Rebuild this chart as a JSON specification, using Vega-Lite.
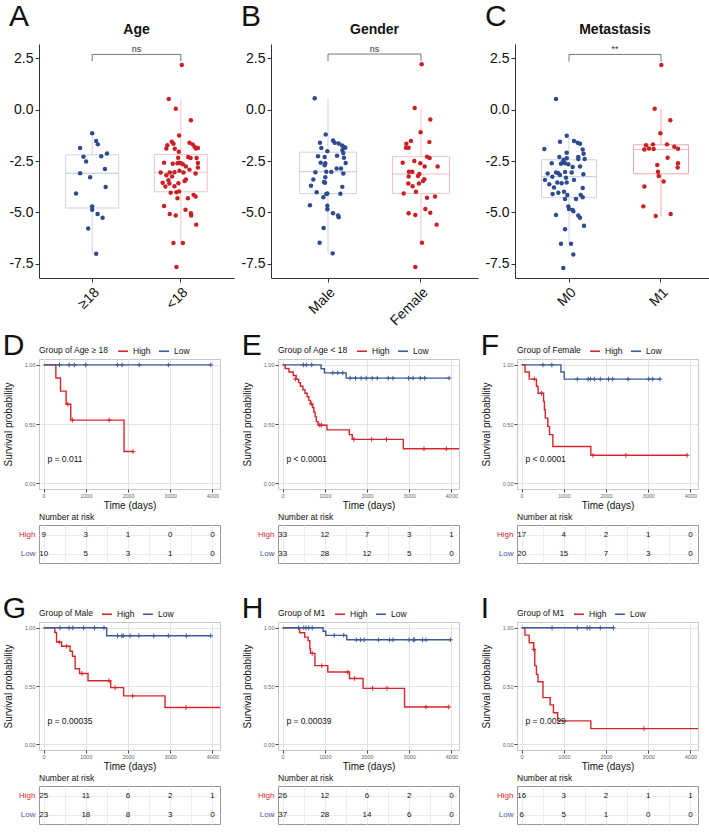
{
"$schema":"https://vega.github.io/schema/vega-lite/v6.json",
"padding":{"left":2,"top":2,"right":0,"bottom":0},
"config":{"font":"Liberation Sans","view":{"stroke":null},
 "title":{"font":"Liberation Sans","color":"#111111"},
 "legend":{"orient":"top","direction":"horizontal","titleOrient":"left","titleFontSize":8.5,"titleFontWeight":"normal","titleColor":"#111111","labelFontSize":8.5,"labelColor":"#111111","symbolStrokeWidth":1.6,"symbolSize":100,"offset":3,"columnPadding":4,"titlePadding":8,"padding":0}},
"datasets":{
"A":[
{"g":"≥18","v":-1.15,"j":0},{"g":"≥18","v":-1.53,"j":0.045},{"g":"≥18","v":-1.69,"j":0.064},{"g":"≥18","v":-1.87,"j":-0.136},{"g":"≥18","v":-2.13,"j":0.167},{"g":"≥18","v":-2.29,"j":-0.098},{"g":"≥18","v":-2.27,"j":0.102},{"g":"≥18","v":-2.52,"j":-0.068},{"g":"≥18","v":-2.89,"j":0.144},{"g":"≥18","v":-3.10,"j":-0.136},{"g":"≥18","v":-3.29,"j":-0.023},{"g":"≥18","v":-3.77,"j":0.152},{"g":"≥18","v":-4.08,"j":-0.182},{"g":"≥18","v":-4.71,"j":0},{"g":"≥18","v":-4.87,"j":0},{"g":"≥18","v":-5.08,"j":0.061},{"g":"≥18","v":-5.26,"j":0.117},{"g":"≥18","v":-5.79,"j":-0.045},{"g":"≥18","v":-7.02,"j":0.045},
{"g":"<18","v":2.18,"j":0.011},{"g":"<18","v":0.52,"j":-0.136},{"g":"<18","v":0.05,"j":-0.057},{"g":"<18","v":-0.52,"j":0.114},{"g":"<18","v":-1.26,"j":-0.019},{"g":"<18","v":-1.56,"j":-0.102},{"g":"<18","v":-1.66,"j":-0.083},{"g":"<18","v":-1.73,"j":-0.152},{"g":"<18","v":-1.61,"j":0.098},{"g":"<18","v":-1.69,"j":0.133},{"g":"<18","v":-1.81,"j":0.155},{"g":"<18","v":-1.89,"j":0.170},{"g":"<18","v":-1.87,"j":0.193},{"g":"<18","v":-1.89,"j":-0.163},{"g":"<18","v":-1.90,"j":-0.068},{"g":"<18","v":-2.05,"j":-0.023},{"g":"<18","v":-2.58,"j":-0.189},{"g":"<18","v":-2.63,"j":-0.091},{"g":"<18","v":-2.61,"j":-0.038},{"g":"<18","v":-2.58,"j":-0.019},{"g":"<18","v":-2.61,"j":0},{"g":"<18","v":-2.66,"j":0.023},{"g":"<18","v":-2.34,"j":-0.030},{"g":"<18","v":-2.31,"j":0.083},{"g":"<18","v":-2.35,"j":0.110},{"g":"<18","v":-2.35,"j":0.178},{"g":"<18","v":-2.60,"j":0.193},{"g":"<18","v":-2.82,"j":0.193},{"g":"<18","v":-2.77,"j":0.057},{"g":"<18","v":-2.92,"j":0.098},{"g":"<18","v":-3.06,"j":-0.125},{"g":"<18","v":-3.06,"j":-0.227},{"g":"<18","v":-3.05,"j":-0.072},{"g":"<18","v":-2.98,"j":-0.015},{"g":"<18","v":-3.06,"j":0.030},{"g":"<18","v":-3.11,"j":0.167},{"g":"<18","v":-3.19,"j":-0.163},{"g":"<18","v":-3.26,"j":-0.098},{"g":"<18","v":-3.40,"j":0.057},{"g":"<18","v":-3.47,"j":0.042},{"g":"<18","v":-3.44,"j":-0.140},{"g":"<18","v":-3.56,"j":-0.205},{"g":"<18","v":-3.60,"j":-0.129},{"g":"<18","v":-3.58,"j":-0.027},{"g":"<18","v":-3.73,"j":-0.072},{"g":"<18","v":-3.74,"j":-0.174},{"g":"<18","v":-3.98,"j":-0.019},{"g":"<18","v":-4.05,"j":-0.114},{"g":"<18","v":-4.02,"j":-0.049},{"g":"<18","v":-4.15,"j":0.144},{"g":"<18","v":-4.23,"j":0.167},{"g":"<18","v":-4.31,"j":-0.038},{"g":"<18","v":-4.31,"j":0.080},{"g":"<18","v":-4.69,"j":-0.189},{"g":"<18","v":-4.87,"j":0.053},{"g":"<18","v":-5.08,"j":-0.125},{"g":"<18","v":-5.15,"j":-0.057},{"g":"<18","v":-5.05,"j":0.114},{"g":"<18","v":-5.15,"j":0.117},{"g":"<18","v":-5.60,"j":0.174},{"g":"<18","v":-6.50,"j":-0.083},{"g":"<18","v":-6.50,"j":0.023},{"g":"<18","v":-7.66,"j":-0.049}
],
"B":[
{"g":"Male","v":0.56,"j":-0.143},{"g":"Male","v":-1.21,"j":-0.025},{"g":"Male","v":-1.50,"j":0.054},{"g":"Male","v":-1.61,"j":-0.086},{"g":"Male","v":-1.61,"j":0.072},{"g":"Male","v":-1.65,"j":0.115},{"g":"Male","v":-1.74,"j":0.151},{"g":"Male","v":-1.82,"j":0.172},{"g":"Male","v":-1.85,"j":0.186},{"g":"Male","v":-1.97,"j":0.154},{"g":"Male","v":-1.87,"j":-0.072},{"g":"Male","v":-2.03,"j":-0.007},{"g":"Male","v":-2.11,"j":0.165},{"g":"Male","v":-2.27,"j":-0.108},{"g":"Male","v":-2.24,"j":0.097},{"g":"Male","v":-2.31,"j":-0.036},{"g":"Male","v":-2.34,"j":0.172},{"g":"Male","v":-2.58,"j":-0.079},{"g":"Male","v":-2.61,"j":-0.029},{"g":"Male","v":-2.60,"j":0.190},{"g":"Male","v":-2.71,"j":-0.036},{"g":"Male","v":-2.87,"j":0.093},{"g":"Male","v":-2.87,"j":0.140},{"g":"Male","v":-3.02,"j":-0.018},{"g":"Male","v":-3.03,"j":0.036},{"g":"Male","v":-3.05,"j":-0.136},{"g":"Male","v":-3.11,"j":0.165},{"g":"Male","v":-3.29,"j":-0.029},{"g":"Male","v":-3.40,"j":-0.158},{"g":"Male","v":-3.52,"j":-0.043},{"g":"Male","v":-3.56,"j":-0.032},{"g":"Male","v":-3.71,"j":-0.183},{"g":"Male","v":-3.76,"j":0.154},{"g":"Male","v":-4.02,"j":-0.122},{"g":"Male","v":-4.11,"j":-0.018},{"g":"Male","v":-4.08,"j":-0.007},{"g":"Male","v":-4.10,"j":0.133},{"g":"Male","v":-4.27,"j":-0.050},{"g":"Male","v":-4.66,"j":-0.194},{"g":"Male","v":-4.68,"j":-0.007},{"g":"Male","v":-4.85,"j":-0.007},{"g":"Male","v":-5.05,"j":0.054},{"g":"Male","v":-5.16,"j":0.108},{"g":"Male","v":-5.24,"j":0.115},{"g":"Male","v":-5.76,"j":-0.047},{"g":"Male","v":-6.48,"j":-0.090},{"g":"Male","v":-7.00,"j":0.050},
{"g":"Female","v":2.21,"j":0.007},{"g":"Female","v":0.08,"j":-0.068},{"g":"Female","v":-0.48,"j":0.100},{"g":"Female","v":-1.10,"j":-0.004},{"g":"Female","v":-1.52,"j":-0.108},{"g":"Female","v":-1.58,"j":0.090},{"g":"Female","v":-1.66,"j":-0.158},{"g":"Female","v":-1.85,"j":-0.161},{"g":"Female","v":-1.85,"j":-0.133},{"g":"Female","v":-2.29,"j":0.065},{"g":"Female","v":-2.35,"j":0.093},{"g":"Female","v":-2.50,"j":-0.072},{"g":"Female","v":-2.58,"j":-0.197},{"g":"Female","v":-2.61,"j":-0.007},{"g":"Female","v":-2.77,"j":0.179},{"g":"Female","v":-2.77,"j":0.039},{"g":"Female","v":-3.02,"j":-0.129},{"g":"Female","v":-3.02,"j":-0.093},{"g":"Female","v":-3.13,"j":-0.018},{"g":"Female","v":-3.26,"j":-0.133},{"g":"Female","v":-3.23,"j":-0.032},{"g":"Female","v":-3.39,"j":0.036},{"g":"Female","v":-3.47,"j":0.022},{"g":"Female","v":-3.60,"j":-0.136},{"g":"Female","v":-3.60,"j":-0.022},{"g":"Female","v":-3.73,"j":-0.090},{"g":"Female","v":-4.00,"j":-0.054},{"g":"Female","v":-4.08,"j":-0.186},{"g":"Female","v":-4.29,"j":0.065},{"g":"Female","v":-4.23,"j":0.151},{"g":"Female","v":-5.05,"j":-0.133},{"g":"Female","v":-5.13,"j":-0.061},{"g":"Female","v":-4.84,"j":0.047},{"g":"Female","v":-5.02,"j":0.100},{"g":"Female","v":-5.60,"j":0.168},{"g":"Female","v":-6.48,"j":0.011},{"g":"Female","v":-7.66,"j":-0.061}
],
"C":[
{"g":"M0","v":0.52,"j":-0.141},{"g":"M0","v":-1.27,"j":-0.025},{"g":"M0","v":-1.56,"j":-0.098},{"g":"M0","v":-1.53,"j":0.054},{"g":"M0","v":-1.61,"j":0.094},{"g":"M0","v":-1.66,"j":0.120},{"g":"M0","v":-1.92,"j":-0.268},{"g":"M0","v":-1.94,"j":0.149},{"g":"M0","v":-2.15,"j":0.159},{"g":"M0","v":-2.10,"j":-0.025},{"g":"M0","v":-2.31,"j":-0.105},{"g":"M0","v":-2.31,"j":0.101},{"g":"M0","v":-2.40,"j":0.101},{"g":"M0","v":-2.37,"j":-0.025},{"g":"M0","v":-2.40,"j":0.170},{"g":"M0","v":-2.44,"j":-0.058},{"g":"M0","v":-2.61,"j":-0.188},{"g":"M0","v":-2.56,"j":-0.069},{"g":"M0","v":-2.63,"j":-0.087},{"g":"M0","v":-2.61,"j":-0.043},{"g":"M0","v":-2.79,"j":0.040},{"g":"M0","v":-2.66,"j":-0.007},{"g":"M0","v":-2.77,"j":0.120},{"g":"M0","v":-3.06,"j":-0.141},{"g":"M0","v":-3.10,"j":-0.116},{"g":"M0","v":-3.03,"j":-0.043},{"g":"M0","v":-3.06,"j":0.029},{"g":"M0","v":-3.15,"j":0.156},{"g":"M0","v":-3.11,"j":-0.232},{"g":"M0","v":-3.27,"j":-0.181},{"g":"M0","v":-3.18,"j":-0.098},{"g":"M0","v":-3.42,"j":-0.261},{"g":"M0","v":-3.31,"j":-0.033},{"g":"M0","v":-3.42,"j":0.054},{"g":"M0","v":-3.55,"j":-0.127},{"g":"M0","v":-3.63,"j":-0.214},{"g":"M0","v":-3.58,"j":-0.080},{"g":"M0","v":-3.55,"j":-0.025},{"g":"M0","v":-3.79,"j":-0.163},{"g":"M0","v":-3.82,"j":0.149},{"g":"M0","v":-4.00,"j":-0.054},{"g":"M0","v":-4.11,"j":-0.178},{"g":"M0","v":-4.05,"j":-0.116},{"g":"M0","v":-4.16,"j":-0.018},{"g":"M0","v":-4.15,"j":0.127},{"g":"M0","v":-4.27,"j":0.149},{"g":"M0","v":-4.35,"j":-0.043},{"g":"M0","v":-4.35,"j":0.076},{"g":"M0","v":-4.71,"j":-0.007},{"g":"M0","v":-4.84,"j":0},{"g":"M0","v":-4.89,"j":0.040},{"g":"M0","v":-4.95,"j":0.047},{"g":"M0","v":-5.13,"j":-0.141},{"g":"M0","v":-5.16,"j":0.101},{"g":"M0","v":-5.27,"j":0.120},{"g":"M0","v":-5.65,"j":0.163},{"g":"M0","v":-5.82,"j":-0.043},{"g":"M0","v":-6.53,"j":-0.087},{"g":"M0","v":-6.53,"j":0.022},{"g":"M0","v":-7.06,"j":0.047},{"g":"M0","v":-7.71,"j":-0.062},
{"g":"M1","v":2.18,"j":0.004},{"g":"M1","v":0.05,"j":-0.069},{"g":"M1","v":-0.52,"j":0.101},{"g":"M1","v":-1.15,"j":-0.007},{"g":"M1","v":-1.73,"j":-0.163},{"g":"M1","v":-1.89,"j":-0.130},{"g":"M1","v":-1.69,"j":-0.087},{"g":"M1","v":-1.69,"j":0.065},{"g":"M1","v":-1.94,"j":-0.181},{"g":"M1","v":-1.92,"j":-0.080},{"g":"M1","v":-1.81,"j":0.145},{"g":"M1","v":-1.90,"j":0.185},{"g":"M1","v":-2.34,"j":0.072},{"g":"M1","v":-2.69,"j":-0.040},{"g":"M1","v":-2.61,"j":0.185},{"g":"M1","v":-2.82,"j":0.181},{"g":"M1","v":-3.02,"j":-0.033},{"g":"M1","v":-3.23,"j":-0.025},{"g":"M1","v":-3.50,"j":0.029},{"g":"M1","v":-3.74,"j":-0.181},{"g":"M1","v":-4.71,"j":-0.192},{"g":"M1","v":-5.08,"j":0.105},{"g":"M1","v":-5.18,"j":-0.058}
],
"line":[
{"p":"D","g":"High","t":0,"s":1},{"p":"D","g":"High","t":290,"s":0.889},{"p":"D","g":"High","t":400,"s":0.778},{"p":"D","g":"High","t":533,"s":0.667},{"p":"D","g":"High","t":643,"s":0.533},{"p":"D","g":"High","t":1906,"s":0.267},{"p":"D","g":"High","t":2118,"s":0.267},
{"p":"D","g":"Low","t":0,"s":1},{"p":"D","g":"Low","t":3961,"s":1},
{"p":"E","g":"High","t":0,"s":1},{"p":"E","g":"High","t":60,"s":0.97},{"p":"E","g":"High","t":150,"s":0.94},{"p":"E","g":"High","t":250,"s":0.91},{"p":"E","g":"High","t":320,"s":0.88},{"p":"E","g":"High","t":380,"s":0.85},{"p":"E","g":"High","t":420,"s":0.82},{"p":"E","g":"High","t":480,"s":0.79},{"p":"E","g":"High","t":530,"s":0.76},{"p":"E","g":"High","t":580,"s":0.73},{"p":"E","g":"High","t":620,"s":0.70},{"p":"E","g":"High","t":660,"s":0.67},{"p":"E","g":"High","t":710,"s":0.64},{"p":"E","g":"High","t":740,"s":0.60},{"p":"E","g":"High","t":770,"s":0.56},{"p":"E","g":"High","t":800,"s":0.52},{"p":"E","g":"High","t":840,"s":0.49},{"p":"E","g":"High","t":1050,"s":0.45},{"p":"E","g":"High","t":1580,"s":0.41},{"p":"E","g":"High","t":1650,"s":0.37},{"p":"E","g":"High","t":2860,"s":0.29},{"p":"E","g":"High","t":4200,"s":0.29},
{"p":"E","g":"Low","t":0,"s":1},{"p":"E","g":"Low","t":911,"s":0.967},{"p":"E","g":"Low","t":990,"s":0.933},{"p":"E","g":"Low","t":1505,"s":0.888},{"p":"E","g":"Low","t":3945,"s":0.888},
{"p":"F","g":"High","t":0,"s":1},{"p":"F","g":"High","t":80,"s":0.94},{"p":"F","g":"High","t":180,"s":0.88},{"p":"F","g":"High","t":350,"s":0.82},{"p":"F","g":"High","t":390,"s":0.76},{"p":"F","g":"High","t":520,"s":0.69},{"p":"F","g":"High","t":540,"s":0.62},{"p":"F","g":"High","t":560,"s":0.55},{"p":"F","g":"High","t":620,"s":0.48},{"p":"F","g":"High","t":660,"s":0.41},{"p":"F","g":"High","t":740,"s":0.31},{"p":"F","g":"High","t":1640,"s":0.235},{"p":"F","g":"High","t":3922,"s":0.235},
{"p":"F","g":"Low","t":0,"s":1},{"p":"F","g":"Low","t":932,"s":0.94},{"p":"F","g":"Low","t":1010,"s":0.88},{"p":"F","g":"Low","t":3278,"s":0.88},
{"p":"G","g":"High","t":0,"s":1},{"p":"G","g":"High","t":265,"s":0.96},{"p":"G","g":"High","t":305,"s":0.878},{"p":"G","g":"High","t":426,"s":0.841},{"p":"G","g":"High","t":627,"s":0.798},{"p":"G","g":"High","t":683,"s":0.756},{"p":"G","g":"High","t":747,"s":0.648},{"p":"G","g":"High","t":851,"s":0.608},{"p":"G","g":"High","t":1052,"s":0.545},{"p":"G","g":"High","t":1590,"s":0.486},{"p":"G","g":"High","t":1896,"s":0.415},{"p":"G","g":"High","t":2876,"s":0.315},{"p":"G","g":"High","t":4200,"s":0.315},
{"p":"G","g":"Low","t":0,"s":1},{"p":"G","g":"Low","t":1494,"s":0.932},{"p":"G","g":"Low","t":3960,"s":0.932},
{"p":"H","g":"High","t":0,"s":1},{"p":"H","g":"High","t":402,"s":0.957},{"p":"H","g":"High","t":523,"s":0.92},{"p":"H","g":"High","t":604,"s":0.89},{"p":"H","g":"High","t":644,"s":0.82},{"p":"H","g":"High","t":660,"s":0.78},{"p":"H","g":"High","t":765,"s":0.675},{"p":"H","g":"High","t":1070,"s":0.62},{"p":"H","g":"High","t":1585,"s":0.565},{"p":"H","g":"High","t":1907,"s":0.48},{"p":"H","g":"High","t":2889,"s":0.32},{"p":"H","g":"High","t":3936,"s":0.32},
{"p":"H","g":"Low","t":0,"s":1},{"p":"H","g":"Low","t":958,"s":0.97},{"p":"H","g":"Low","t":1022,"s":0.935},{"p":"H","g":"Low","t":1521,"s":0.897},{"p":"H","g":"Low","t":3976,"s":0.897},
{"p":"I","g":"High","t":0,"s":1},{"p":"I","g":"High","t":78,"s":0.937},{"p":"I","g":"High","t":179,"s":0.872},{"p":"I","g":"High","t":287,"s":0.815},{"p":"I","g":"High","t":311,"s":0.673},{"p":"I","g":"High","t":350,"s":0.60},{"p":"I","g":"High","t":388,"s":0.537},{"p":"I","g":"High","t":505,"s":0.40},{"p":"I","g":"High","t":676,"s":0.338},{"p":"I","g":"High","t":753,"s":0.27},{"p":"I","g":"High","t":854,"s":0.20},{"p":"I","g":"High","t":1639,"s":0.134},{"p":"I","g":"High","t":4200,"s":0.134},
{"p":"I","g":"Low","t":0,"s":1},{"p":"I","g":"Low","t":2175,"s":1}
],
"cens":[
{"p":"D","g":"High","t":573,"s":0.667},{"p":"D","g":"High","t":682,"s":0.533},{"p":"D","g":"High","t":1553,"s":0.533},{"p":"D","g":"High","t":2118,"s":0.267},
{"p":"D","g":"Low","t":376,"s":1},{"p":"D","g":"Low","t":604,"s":1},{"p":"D","g":"Low","t":729,"s":1},{"p":"D","g":"Low","t":996,"s":1},{"p":"D","g":"Low","t":1749,"s":1},{"p":"D","g":"Low","t":1859,"s":1},{"p":"D","g":"Low","t":2267,"s":1},{"p":"D","g":"Low","t":2957,"s":1},{"p":"D","g":"Low","t":3961,"s":1},
{"p":"E","g":"High","t":300,"s":0.88},{"p":"E","g":"High","t":680,"s":0.67},{"p":"E","g":"High","t":880,"s":0.49},{"p":"E","g":"High","t":920,"s":0.49},{"p":"E","g":"High","t":1690,"s":0.37},{"p":"E","g":"High","t":2110,"s":0.37},{"p":"E","g":"High","t":2460,"s":0.37},{"p":"E","g":"High","t":3350,"s":0.29},{"p":"E","g":"High","t":3880,"s":0.29},
{"p":"E","g":"Low","t":491,"s":1},{"p":"E","g":"Low","t":560,"s":1},{"p":"E","g":"Low","t":689,"s":1},{"p":"E","g":"Low","t":1188,"s":0.933},{"p":"E","g":"Low","t":1307,"s":0.933},{"p":"E","g":"Low","t":1426,"s":0.933},{"p":"E","g":"Low","t":1600,"s":0.888},{"p":"E","g":"Low","t":1727,"s":0.888},{"p":"E","g":"Low","t":1861,"s":0.888},{"p":"E","g":"Low","t":1980,"s":0.888},{"p":"E","g":"Low","t":2123,"s":0.888},{"p":"E","g":"Low","t":2242,"s":0.888},{"p":"E","g":"Low","t":2503,"s":0.888},{"p":"E","g":"Low","t":2614,"s":0.888},{"p":"E","g":"Low","t":2986,"s":0.888},{"p":"E","g":"Low","t":3089,"s":0.888},{"p":"E","g":"Low","t":3263,"s":0.888},{"p":"E","g":"Low","t":3366,"s":0.888},{"p":"E","g":"Low","t":3945,"s":0.888},
{"p":"F","g":"High","t":300,"s":0.88},{"p":"F","g":"High","t":470,"s":0.76},{"p":"F","g":"High","t":1693,"s":0.235},{"p":"F","g":"High","t":2470,"s":0.235},{"p":"F","g":"High","t":3922,"s":0.235},
{"p":"F","g":"Low","t":505,"s":1},{"p":"F","g":"Low","t":715,"s":1},{"p":"F","g":"Low","t":1320,"s":0.88},{"p":"F","g":"Low","t":1577,"s":0.88},{"p":"F","g":"Low","t":1631,"s":0.88},{"p":"F","g":"Low","t":1724,"s":0.88},{"p":"F","g":"Low","t":1864,"s":0.88},{"p":"F","g":"Low","t":2058,"s":0.88},{"p":"F","g":"Low","t":2159,"s":0.88},{"p":"F","g":"Low","t":2524,"s":0.88},{"p":"F","g":"Low","t":3014,"s":0.88},{"p":"F","g":"Low","t":3107,"s":0.88},{"p":"F","g":"Low","t":3278,"s":0.88},
{"p":"G","g":"High","t":369,"s":0.878},{"p":"G","g":"High","t":546,"s":0.841},{"p":"G","g":"High","t":908,"s":0.608},{"p":"G","g":"High","t":1550,"s":0.545},{"p":"G","g":"High","t":1695,"s":0.486},{"p":"G","g":"High","t":2112,"s":0.415},{"p":"G","g":"High","t":3373,"s":0.315},
{"p":"G","g":"Low","t":386,"s":1},{"p":"G","g":"Low","t":602,"s":1},{"p":"G","g":"Low","t":691,"s":1},{"p":"G","g":"Low","t":948,"s":1},{"p":"G","g":"Low","t":1205,"s":1},{"p":"G","g":"Low","t":1430,"s":1},{"p":"G","g":"Low","t":1751,"s":0.932},{"p":"G","g":"Low","t":1855,"s":0.932},{"p":"G","g":"Low","t":1888,"s":0.932},{"p":"G","g":"Low","t":2048,"s":0.932},{"p":"G","g":"Low","t":2257,"s":0.932},{"p":"G","g":"Low","t":2610,"s":0.932},{"p":"G","g":"Low","t":2956,"s":0.932},{"p":"G","g":"Low","t":3382,"s":0.932},{"p":"G","g":"Low","t":3960,"s":0.932},
{"p":"H","g":"High","t":700,"s":0.78},{"p":"H","g":"High","t":926,"s":0.675},{"p":"H","g":"High","t":1545,"s":0.62},{"p":"H","g":"High","t":1706,"s":0.565},{"p":"H","g":"High","t":2133,"s":0.48},{"p":"H","g":"High","t":2471,"s":0.48},{"p":"H","g":"High","t":3396,"s":0.32},{"p":"H","g":"High","t":3936,"s":0.32},
{"p":"H","g":"Low","t":378,"s":1},{"p":"H","g":"Low","t":499,"s":1},{"p":"H","g":"Low","t":555,"s":1},{"p":"H","g":"Low","t":620,"s":1},{"p":"H","g":"Low","t":700,"s":1},{"p":"H","g":"Low","t":1223,"s":0.935},{"p":"H","g":"Low","t":1449,"s":0.935},{"p":"H","g":"Low","t":1746,"s":0.897},{"p":"H","g":"Low","t":1843,"s":0.897},{"p":"H","g":"Low","t":1932,"s":0.897},{"p":"H","g":"Low","t":2269,"s":0.897},{"p":"H","g":"Low","t":2535,"s":0.897},{"p":"H","g":"Low","t":2615,"s":0.897},{"p":"H","g":"Low","t":2994,"s":0.897},{"p":"H","g":"Low","t":3098,"s":0.897},{"p":"H","g":"Low","t":3130,"s":0.897},{"p":"H","g":"Low","t":3315,"s":0.897},{"p":"H","g":"Low","t":3396,"s":0.897},{"p":"H","g":"Low","t":3976,"s":0.897},
{"p":"I","g":"High","t":287,"s":0.815},{"p":"I","g":"High","t":2897,"s":0.134},
{"p":"I","g":"Low","t":722,"s":1},{"p":"I","g":"Low","t":1320,"s":1},{"p":"I","g":"Low","t":1553,"s":1},{"p":"I","g":"Low","t":1616,"s":1},{"p":"I","g":"Low","t":1864,"s":1},{"p":"I","g":"Low","t":2175,"s":1}
],
"pv":[
{"p":"D","t":90,"s":0.2,"lab":"p = 0.011"},{"p":"E","t":90,"s":0.2,"lab":"p < 0.0001"},{"p":"F","t":90,"s":0.2,"lab":"p < 0.0001"},{"p":"G","t":90,"s":0.2,"lab":"p = 0.00035"},{"p":"H","t":90,"s":0.2,"lab":"p = 0.00039"},{"p":"I","t":90,"s":0.2,"lab":"p = 0.0029"}
],
"risk":[
{"p":"D","g":"High","t":0,"n":9},{"p":"D","g":"High","t":1000,"n":3},{"p":"D","g":"High","t":2000,"n":1},{"p":"D","g":"High","t":3000,"n":0},{"p":"D","g":"High","t":4000,"n":0},
{"p":"D","g":"Low","t":0,"n":10},{"p":"D","g":"Low","t":1000,"n":5},{"p":"D","g":"Low","t":2000,"n":3},{"p":"D","g":"Low","t":3000,"n":1},{"p":"D","g":"Low","t":4000,"n":0},
{"p":"E","g":"High","t":0,"n":33},{"p":"E","g":"High","t":1000,"n":12},{"p":"E","g":"High","t":2000,"n":7},{"p":"E","g":"High","t":3000,"n":3},{"p":"E","g":"High","t":4000,"n":1},
{"p":"E","g":"Low","t":0,"n":33},{"p":"E","g":"Low","t":1000,"n":28},{"p":"E","g":"Low","t":2000,"n":12},{"p":"E","g":"Low","t":3000,"n":5},{"p":"E","g":"Low","t":4000,"n":0},
{"p":"F","g":"High","t":0,"n":17},{"p":"F","g":"High","t":1000,"n":4},{"p":"F","g":"High","t":2000,"n":2},{"p":"F","g":"High","t":3000,"n":1},{"p":"F","g":"High","t":4000,"n":0},
{"p":"F","g":"Low","t":0,"n":20},{"p":"F","g":"Low","t":1000,"n":15},{"p":"F","g":"Low","t":2000,"n":7},{"p":"F","g":"Low","t":3000,"n":3},{"p":"F","g":"Low","t":4000,"n":0},
{"p":"G","g":"High","t":0,"n":25},{"p":"G","g":"High","t":1000,"n":11},{"p":"G","g":"High","t":2000,"n":6},{"p":"G","g":"High","t":3000,"n":2},{"p":"G","g":"High","t":4000,"n":1},
{"p":"G","g":"Low","t":0,"n":23},{"p":"G","g":"Low","t":1000,"n":18},{"p":"G","g":"Low","t":2000,"n":8},{"p":"G","g":"Low","t":3000,"n":3},{"p":"G","g":"Low","t":4000,"n":0},
{"p":"H","g":"High","t":0,"n":26},{"p":"H","g":"High","t":1000,"n":12},{"p":"H","g":"High","t":2000,"n":6},{"p":"H","g":"High","t":3000,"n":2},{"p":"H","g":"High","t":4000,"n":0},
{"p":"H","g":"Low","t":0,"n":37},{"p":"H","g":"Low","t":1000,"n":28},{"p":"H","g":"Low","t":2000,"n":14},{"p":"H","g":"Low","t":3000,"n":6},{"p":"H","g":"Low","t":4000,"n":0},
{"p":"I","g":"High","t":0,"n":16},{"p":"I","g":"High","t":1000,"n":3},{"p":"I","g":"High","t":2000,"n":2},{"p":"I","g":"High","t":3000,"n":1},{"p":"I","g":"High","t":4000,"n":1},
{"p":"I","g":"Low","t":0,"n":6},{"p":"I","g":"Low","t":1000,"n":5},{"p":"I","g":"Low","t":2000,"n":1},{"p":"I","g":"Low","t":3000,"n":0},{"p":"I","g":"Low","t":4000,"n":0}
]
},
"resolve":{"scale":{"color":"independent","xOffset":"independent"},"legend":{"color":"independent"}},
"spacing":2,
"align":"none",
"vconcat":[
{"spacing":6,"resolve":{"scale":{"color":"independent","xOffset":"independent"},"legend":{"color":"independent"}},
 "hconcat":[
 {"title":{"text":"A","anchor":"start","fontSize":30,"fontWeight":"normal","offset":-9},
  "vconcat":[{
   "width":195,"height":234,
   "title":{"text":"Age","fontSize":14,"fontWeight":"bold","anchor":"middle","frame":"group","offset":7},
   "data":{"name":"A"},
   "encoding":{
    "x":{"field":"g","type":"nominal","scale":{"domain":["≥18","<18"],"paddingInner":0,"paddingOuter":0.1},"axis":{"title":null,"labelAngle":-45,"labelAlign":"right","labelBaseline":"top","labelFontSize":14,"labelColor":"#111111","labelPadding":3,"tickSize":4,"tickColor":"#333333","domainColor":"#333333","grid":false}},
    "y":{"field":"v","type":"quantitative","scale":{"domain":[-8.2,3.2],"nice":false,"zero":false},"axis":{"title":null,"values":[-7.5,-5,-2.5,0,2.5],"labelExpr":"(datum.value < 0 ? '-' : '') + format(abs(datum.value), '.1f')","labelFontSize":14,"labelColor":"#111111","labelPadding":2,"tickSize":4,"tickColor":"#333333","domainColor":"#333333","grid":false}}
   },
   "layer":[
    {"transform":[{"filter":"datum.g == '≥18'"}],"mark":{"type":"boxplot","extent":1.5,"size":53,"outliers":false,"ticks":false,"box":{"fill":"#ffffff","fillOpacity":0,"stroke":"#cdd3e6","strokeWidth":1},"median":{"color":"#a3aed0"},"rule":{"color":"#cdd3e6"}}},
    {"transform":[{"filter":"datum.g == '<18'"}],"mark":{"type":"boxplot","extent":1.5,"size":53,"outliers":false,"ticks":false,"box":{"fill":"#ffffff","fillOpacity":0,"stroke":"#f3c4c6","strokeWidth":1},"median":{"color":"#eba3a6"},"rule":{"color":"#f3c4c6"}}},
    {"transform":[{"filter":"datum.g == '≥18'"}],"mark":{"type":"circle","size":20,"color":"#2F4B8F","opacity":1},"encoding":{"xOffset":{"field":"j","type":"quantitative","scale":{"domain":[-0.5,0.5],"nice":false,"zero":false}}}},
    {"transform":[{"filter":"datum.g == '<18'"}],"mark":{"type":"circle","size":20,"color":"#CC1F24","opacity":1},"encoding":{"xOffset":{"field":"j","type":"quantitative","scale":{"domain":[-0.5,0.5],"nice":false,"zero":false}}}},
    {"data":{"values":[{"g":"≥18","v":2.37,"o":1},{"g":"≥18","v":2.69,"o":2},{"g":"<18","v":2.69,"o":3},{"g":"<18","v":2.37,"o":4}]},"mark":{"type":"line","color":"#555555","strokeWidth":0.8},"encoding":{"order":{"field":"o","type":"quantitative"}}},
    {"data":{"values":[{"g":"≥18","v":2.95,"j":0.5,"lab":"ns"}]},"mark":{"type":"text","fontSize":9,"color":"#333333"},"encoding":{"xOffset":{"field":"j","type":"quantitative","scale":{"domain":[-0.5,0.5],"nice":false,"zero":false}},"text":{"field":"lab"}}}
   ]
  }]
 },
 {"title":{"text":"B","anchor":"start","fontSize":30,"fontWeight":"normal","offset":-9},
  "vconcat":[{
   "width":207,"height":234,
   "title":{"text":"Gender","fontSize":14,"fontWeight":"bold","anchor":"middle","frame":"group","offset":7},
   "data":{"name":"B"},
   "encoding":{
    "x":{"field":"g","type":"nominal","scale":{"domain":["Male","Female"],"paddingInner":0,"paddingOuter":0.113},"axis":{"title":null,"labelAngle":-45,"labelAlign":"right","labelBaseline":"top","labelFontSize":14,"labelColor":"#111111","labelPadding":3,"tickSize":4,"tickColor":"#333333","domainColor":"#333333","grid":false}},
    "y":{"field":"v","type":"quantitative","scale":{"domain":[-8.2,3.2],"nice":false,"zero":false},"axis":{"title":null,"values":[-7.5,-5,-2.5,0,2.5],"labelExpr":"(datum.value < 0 ? '-' : '') + format(abs(datum.value), '.1f')","labelFontSize":14,"labelColor":"#111111","labelPadding":2,"tickSize":4,"tickColor":"#333333","domainColor":"#333333","grid":false}}
   },
   "layer":[
    {"transform":[{"filter":"datum.g == 'Male'"}],"mark":{"type":"boxplot","extent":1.5,"size":57,"outliers":false,"ticks":false,"box":{"fill":"#ffffff","fillOpacity":0,"stroke":"#cdd3e6","strokeWidth":1},"median":{"color":"#a3aed0"},"rule":{"color":"#cdd3e6"}}},
    {"transform":[{"filter":"datum.g == 'Female'"}],"mark":{"type":"boxplot","extent":1.5,"size":57,"outliers":false,"ticks":false,"box":{"fill":"#ffffff","fillOpacity":0,"stroke":"#f3c4c6","strokeWidth":1},"median":{"color":"#eba3a6"},"rule":{"color":"#f3c4c6"}}},
    {"transform":[{"filter":"datum.g == 'Male'"}],"mark":{"type":"circle","size":20,"color":"#2F4B8F","opacity":1},"encoding":{"xOffset":{"field":"j","type":"quantitative","scale":{"domain":[-0.5,0.5],"nice":false,"zero":false}}}},
    {"transform":[{"filter":"datum.g == 'Female'"}],"mark":{"type":"circle","size":20,"color":"#CC1F24","opacity":1},"encoding":{"xOffset":{"field":"j","type":"quantitative","scale":{"domain":[-0.5,0.5],"nice":false,"zero":false}}}},
    {"data":{"values":[{"g":"Male","v":2.37,"o":1},{"g":"Male","v":2.71,"o":2},{"g":"Female","v":2.71,"o":3},{"g":"Female","v":2.37,"o":4}]},"mark":{"type":"line","color":"#555555","strokeWidth":0.8},"encoding":{"order":{"field":"o","type":"quantitative"}}},
    {"data":{"values":[{"g":"Male","v":2.97,"j":0.5,"lab":"ns"}]},"mark":{"type":"text","fontSize":9,"color":"#333333"},"encoding":{"xOffset":{"field":"j","type":"quantitative","scale":{"domain":[-0.5,0.5],"nice":false,"zero":false}},"text":{"field":"lab"}}}
   ]
  }]
 },
 {"title":{"text":"C","anchor":"start","fontSize":30,"fontWeight":"normal","offset":-9},
  "vconcat":[{
   "width":200,"height":234,
   "title":{"text":"Metastasis","fontSize":14,"fontWeight":"bold","anchor":"middle","frame":"group","offset":7},
   "data":{"name":"C"},
   "encoding":{
    "x":{"field":"g","type":"nominal","scale":{"domain":["M0","M1"],"paddingInner":0,"paddingOuter":0.087},"axis":{"title":null,"labelAngle":-45,"labelAlign":"right","labelBaseline":"top","labelFontSize":14,"labelColor":"#111111","labelPadding":3,"tickSize":4,"tickColor":"#333333","domainColor":"#333333","grid":false}},
    "y":{"field":"v","type":"quantitative","scale":{"domain":[-8.2,3.2],"nice":false,"zero":false},"axis":{"title":null,"values":[-7.5,-5,-2.5,0,2.5],"labelExpr":"(datum.value < 0 ? '-' : '') + format(abs(datum.value), '.1f')","labelFontSize":14,"labelColor":"#111111","labelPadding":2,"tickSize":4,"tickColor":"#333333","domainColor":"#333333","grid":false}}
   },
   "layer":[
    {"transform":[{"filter":"datum.g == 'M0'"}],"mark":{"type":"boxplot","extent":1.5,"size":55,"outliers":false,"ticks":false,"box":{"fill":"#ffffff","fillOpacity":0,"stroke":"#cdd3e6","strokeWidth":1},"median":{"color":"#a3aed0"},"rule":{"color":"#cdd3e6"}}},
    {"transform":[{"filter":"datum.g == 'M1'"}],"mark":{"type":"boxplot","extent":1.5,"size":55,"outliers":false,"ticks":false,"box":{"fill":"#ffffff","fillOpacity":0,"stroke":"#eeaaad","strokeWidth":1},"median":{"color":"#eba3a6"},"rule":{"color":"#eeaaad"}}},
    {"transform":[{"filter":"datum.g == 'M0'"}],"mark":{"type":"circle","size":20,"color":"#2F4B8F","opacity":1},"encoding":{"xOffset":{"field":"j","type":"quantitative","scale":{"domain":[-0.5,0.5],"nice":false,"zero":false}}}},
    {"transform":[{"filter":"datum.g == 'M1'"}],"mark":{"type":"circle","size":20,"color":"#CC1F24","opacity":1},"encoding":{"xOffset":{"field":"j","type":"quantitative","scale":{"domain":[-0.5,0.5],"nice":false,"zero":false}}}},
    {"data":{"values":[{"g":"M0","v":2.34,"o":1},{"g":"M0","v":2.69,"o":2},{"g":"M1","v":2.69,"o":3},{"g":"M1","v":2.34,"o":4}]},"mark":{"type":"line","color":"#555555","strokeWidth":0.8},"encoding":{"order":{"field":"o","type":"quantitative"}}},
    {"data":{"values":[{"g":"M0","v":2.98,"j":0.5,"lab":"**"}]},"mark":{"type":"text","fontSize":9,"color":"#333333"},"encoding":{"xOffset":{"field":"j","type":"quantitative","scale":{"domain":[-0.5,0.5],"nice":false,"zero":false}},"text":{"field":"lab"}}}
   ]
  }]
 }
 ]
},
{"spacing":29,"align":"none","resolve":{"scale":{"color":"independent"},"legend":{"color":"independent"}},
 "vconcat":[
 {"spacing":20,"resolve":{"scale":{"color":"independent"},"legend":{"color":"independent"}},
  "hconcat":[
  {"title":{"text":"D","anchor":"start","fontSize":30,"fontWeight":"normal","offset":-16},"spacing":1,"resolve":{"scale":{"color":"independent"},"legend":{"color":"independent"}},
   "vconcat":[
   {"width":181,"height":130,"view":{"stroke":"#c8c8c8"},
    "layer":[
     {"data":{"name":"line"},"transform":[{"filter":"datum.p == 'D'"}],"mark":{"type":"line","interpolate":"step-after","strokeWidth":1.4,"clip":true},
      "encoding":{"x":{"field":"t","type":"quantitative","scale":{"domain":[-110,4180],"nice":false,"zero":false},"axis":{"title":"Time (days)","values":[0,500,1000,1500,2000,2500,3000,3500,4000],"format":"d","labelExpr":"datum.value % 1000 == 0 ? datum.label : ''","labelFlush":false,"labelFontSize":5.5,"labelColor":"#666666","labelPadding":1,"tickSize":3,"tickColor":"#444444","tickOpacity":{"condition":{"test":"datum.value % 1000 == 0","value":1},"value":0},"domain":false,"grid":true,"gridColor":{"condition":{"test":"datum.value % 1000 == 0","value":"#e3e3e3"},"value":"#f1f1f1"},"titleFontSize":10,"titleFontWeight":"normal","titleColor":"#111111","titlePadding":2}},
       "y":{"field":"s","type":"quantitative","scale":{"domain":[-0.05,1.05],"nice":false,"zero":false},"axis":{"title":"Survival probability","values":[0,0.125,0.25,0.375,0.5,0.625,0.75,0.875,1],"format":".2f","labelExpr":"(datum.value * 4) % 1 == 0 ? datum.label : ''","labelFlush":false,"labelFontSize":5.5,"labelColor":"#666666","labelPadding":1,"tickSize":3,"tickColor":"#444444","tickOpacity":{"condition":{"test":"(datum.value * 4) % 1 == 0","value":1},"value":0},"domain":false,"grid":true,"gridColor":{"condition":{"test":"(datum.value * 4) % 1 == 0","value":"#e3e3e3"},"value":"#f1f1f1"},"titleFontSize":10,"titleFontWeight":"normal","titleColor":"#111111","titlePadding":11}},
       "color":{"field":"g","type":"nominal","scale":{"domain":["High","Low"],"range":["#D7262B","#3C5A9A"]},"legend":{"title":"Group of Age ≥ 18","symbolType":"stroke"}}}},
     {"data":{"name":"cens"},"transform":[{"filter":"datum.p == 'D'"}],"mark":{"type":"point","shape":"M-1,0L1,0M0,-1L0,1","size":22,"strokeWidth":1,"filled":false,"opacity":1},
      "encoding":{"x":{"field":"t","type":"quantitative"},"y":{"field":"s","type":"quantitative"},"color":{"field":"g","type":"nominal"}}},
     {"data":{"name":"pv"},"transform":[{"filter":"datum.p == 'D'"}],"mark":{"type":"text","align":"left","baseline":"middle","fontSize":8.5,"color":"#111111"},
      "encoding":{"x":{"field":"t","type":"quantitative"},"y":{"field":"s","type":"quantitative"},"text":{"field":"lab"}}}
    ]},
   {"width":181,"height":38,"view":{"stroke":"#999999"},
    "title":{"text":"Number at risk","anchor":"start","frame":"group","fontSize":8.5,"fontWeight":"normal","offset":4},
    "data":{"name":"risk"},"transform":[{"filter":"datum.p == 'D'"}],
    "mark":{"type":"text","fontSize":8,"color":"#111111"},
    "encoding":{"x":{"field":"t","type":"quantitative","scale":{"domain":[-110,4180],"nice":false,"zero":false},"axis":{"values":[0,500,1000,1500,2000,2500,3000,3500,4000],"labels":false,"ticks":false,"domain":false,"grid":true,"gridColor":"#ececec","title":null}},
     "y":{"field":"g","type":"nominal","scale":{"domain":["High","Low"],"paddingInner":0,"paddingOuter":0.05},"axis":{"title":null,"ticks":false,"domain":false,"grid":true,"bandPosition":0.5,"gridColor":"#ececec","labelFontSize":8,"labelPadding":4,"labelColor":{"condition":{"test":"datum.value == 'High'","value":"#D7262B"},"value":"#3C5A9A"}}},
     "text":{"field":"n","type":"quantitative"}}}
   ]},
  {"title":{"text":"E","anchor":"start","fontSize":30,"fontWeight":"normal","offset":-16},"spacing":1,"resolve":{"scale":{"color":"independent"},"legend":{"color":"independent"}},
   "vconcat":[
   {"width":181,"height":130,"view":{"stroke":"#c8c8c8"},
    "layer":[
     {"data":{"name":"line"},"transform":[{"filter":"datum.p == 'E'"}],"mark":{"type":"line","interpolate":"step-after","strokeWidth":1.4,"clip":true},
      "encoding":{"x":{"field":"t","type":"quantitative","scale":{"domain":[-110,4180],"nice":false,"zero":false},"axis":{"title":"Time (days)","values":[0,500,1000,1500,2000,2500,3000,3500,4000],"format":"d","labelExpr":"datum.value % 1000 == 0 ? datum.label : ''","labelFlush":false,"labelFontSize":5.5,"labelColor":"#666666","labelPadding":1,"tickSize":3,"tickColor":"#444444","tickOpacity":{"condition":{"test":"datum.value % 1000 == 0","value":1},"value":0},"domain":false,"grid":true,"gridColor":{"condition":{"test":"datum.value % 1000 == 0","value":"#e3e3e3"},"value":"#f1f1f1"},"titleFontSize":10,"titleFontWeight":"normal","titleColor":"#111111","titlePadding":2}},
       "y":{"field":"s","type":"quantitative","scale":{"domain":[-0.05,1.05],"nice":false,"zero":false},"axis":{"title":"Survival probability","values":[0,0.125,0.25,0.375,0.5,0.625,0.75,0.875,1],"format":".2f","labelExpr":"(datum.value * 4) % 1 == 0 ? datum.label : ''","labelFlush":false,"labelFontSize":5.5,"labelColor":"#666666","labelPadding":1,"tickSize":3,"tickColor":"#444444","tickOpacity":{"condition":{"test":"(datum.value * 4) % 1 == 0","value":1},"value":0},"domain":false,"grid":true,"gridColor":{"condition":{"test":"(datum.value * 4) % 1 == 0","value":"#e3e3e3"},"value":"#f1f1f1"},"titleFontSize":10,"titleFontWeight":"normal","titleColor":"#111111","titlePadding":11}},
       "color":{"field":"g","type":"nominal","scale":{"domain":["High","Low"],"range":["#D7262B","#3C5A9A"]},"legend":{"title":"Group of Age < 18","symbolType":"stroke"}}}},
     {"data":{"name":"cens"},"transform":[{"filter":"datum.p == 'E'"}],"mark":{"type":"point","shape":"M-1,0L1,0M0,-1L0,1","size":22,"strokeWidth":1,"filled":false,"opacity":1},
      "encoding":{"x":{"field":"t","type":"quantitative"},"y":{"field":"s","type":"quantitative"},"color":{"field":"g","type":"nominal"}}},
     {"data":{"name":"pv"},"transform":[{"filter":"datum.p == 'E'"}],"mark":{"type":"text","align":"left","baseline":"middle","fontSize":8.5,"color":"#111111"},
      "encoding":{"x":{"field":"t","type":"quantitative"},"y":{"field":"s","type":"quantitative"},"text":{"field":"lab"}}}
    ]},
   {"width":181,"height":38,"view":{"stroke":"#999999"},
    "title":{"text":"Number at risk","anchor":"start","frame":"group","fontSize":8.5,"fontWeight":"normal","offset":4},
    "data":{"name":"risk"},"transform":[{"filter":"datum.p == 'E'"}],
    "mark":{"type":"text","fontSize":8,"color":"#111111"},
    "encoding":{"x":{"field":"t","type":"quantitative","scale":{"domain":[-110,4180],"nice":false,"zero":false},"axis":{"values":[0,500,1000,1500,2000,2500,3000,3500,4000],"labels":false,"ticks":false,"domain":false,"grid":true,"gridColor":"#ececec","title":null}},
     "y":{"field":"g","type":"nominal","scale":{"domain":["High","Low"],"paddingInner":0,"paddingOuter":0.05},"axis":{"title":null,"ticks":false,"domain":false,"grid":true,"bandPosition":0.5,"gridColor":"#ececec","labelFontSize":8,"labelPadding":4,"labelColor":{"condition":{"test":"datum.value == 'High'","value":"#D7262B"},"value":"#3C5A9A"}}},
     "text":{"field":"n","type":"quantitative"}}}
   ]},
  {"title":{"text":"F","anchor":"start","fontSize":30,"fontWeight":"normal","offset":-16},"spacing":1,"resolve":{"scale":{"color":"independent"},"legend":{"color":"independent"}},
   "vconcat":[
   {"width":181,"height":130,"view":{"stroke":"#c8c8c8"},
    "layer":[
     {"data":{"name":"line"},"transform":[{"filter":"datum.p == 'F'"}],"mark":{"type":"line","interpolate":"step-after","strokeWidth":1.4,"clip":true},
      "encoding":{"x":{"field":"t","type":"quantitative","scale":{"domain":[-110,4180],"nice":false,"zero":false},"axis":{"title":"Time (days)","values":[0,500,1000,1500,2000,2500,3000,3500,4000],"format":"d","labelExpr":"datum.value % 1000 == 0 ? datum.label : ''","labelFlush":false,"labelFontSize":5.5,"labelColor":"#666666","labelPadding":1,"tickSize":3,"tickColor":"#444444","tickOpacity":{"condition":{"test":"datum.value % 1000 == 0","value":1},"value":0},"domain":false,"grid":true,"gridColor":{"condition":{"test":"datum.value % 1000 == 0","value":"#e3e3e3"},"value":"#f1f1f1"},"titleFontSize":10,"titleFontWeight":"normal","titleColor":"#111111","titlePadding":2}},
       "y":{"field":"s","type":"quantitative","scale":{"domain":[-0.05,1.05],"nice":false,"zero":false},"axis":{"title":"Survival probability","values":[0,0.125,0.25,0.375,0.5,0.625,0.75,0.875,1],"format":".2f","labelExpr":"(datum.value * 4) % 1 == 0 ? datum.label : ''","labelFlush":false,"labelFontSize":5.5,"labelColor":"#666666","labelPadding":1,"tickSize":3,"tickColor":"#444444","tickOpacity":{"condition":{"test":"(datum.value * 4) % 1 == 0","value":1},"value":0},"domain":false,"grid":true,"gridColor":{"condition":{"test":"(datum.value * 4) % 1 == 0","value":"#e3e3e3"},"value":"#f1f1f1"},"titleFontSize":10,"titleFontWeight":"normal","titleColor":"#111111","titlePadding":11}},
       "color":{"field":"g","type":"nominal","scale":{"domain":["High","Low"],"range":["#D7262B","#3C5A9A"]},"legend":{"title":"Group of Female","symbolType":"stroke"}}}},
     {"data":{"name":"cens"},"transform":[{"filter":"datum.p == 'F'"}],"mark":{"type":"point","shape":"M-1,0L1,0M0,-1L0,1","size":22,"strokeWidth":1,"filled":false,"opacity":1},
      "encoding":{"x":{"field":"t","type":"quantitative"},"y":{"field":"s","type":"quantitative"},"color":{"field":"g","type":"nominal"}}},
     {"data":{"name":"pv"},"transform":[{"filter":"datum.p == 'F'"}],"mark":{"type":"text","align":"left","baseline":"middle","fontSize":8.5,"color":"#111111"},
      "encoding":{"x":{"field":"t","type":"quantitative"},"y":{"field":"s","type":"quantitative"},"text":{"field":"lab"}}}
    ]},
   {"width":181,"height":38,"view":{"stroke":"#999999"},
    "title":{"text":"Number at risk","anchor":"start","frame":"group","fontSize":8.5,"fontWeight":"normal","offset":4},
    "data":{"name":"risk"},"transform":[{"filter":"datum.p == 'F'"}],
    "mark":{"type":"text","fontSize":8,"color":"#111111"},
    "encoding":{"x":{"field":"t","type":"quantitative","scale":{"domain":[-110,4180],"nice":false,"zero":false},"axis":{"values":[0,500,1000,1500,2000,2500,3000,3500,4000],"labels":false,"ticks":false,"domain":false,"grid":true,"gridColor":"#ececec","title":null}},
     "y":{"field":"g","type":"nominal","scale":{"domain":["High","Low"],"paddingInner":0,"paddingOuter":0.05},"axis":{"title":null,"ticks":false,"domain":false,"grid":true,"bandPosition":0.5,"gridColor":"#ececec","labelFontSize":8,"labelPadding":4,"labelColor":{"condition":{"test":"datum.value == 'High'","value":"#D7262B"},"value":"#3C5A9A"}}},
     "text":{"field":"n","type":"quantitative"}}}
   ]}
  ]},
 {"spacing":20,"resolve":{"scale":{"color":"independent"},"legend":{"color":"independent"}},
  "hconcat":[
  {"title":{"text":"G","anchor":"start","fontSize":30,"fontWeight":"normal","offset":-16},"spacing":1,"resolve":{"scale":{"color":"independent"},"legend":{"color":"independent"}},
   "vconcat":[
   {"width":181,"height":128,"view":{"stroke":"#c8c8c8"},
    "layer":[
     {"data":{"name":"line"},"transform":[{"filter":"datum.p == 'G'"}],"mark":{"type":"line","interpolate":"step-after","strokeWidth":1.4,"clip":true},
      "encoding":{"x":{"field":"t","type":"quantitative","scale":{"domain":[-110,4180],"nice":false,"zero":false},"axis":{"title":"Time (days)","values":[0,500,1000,1500,2000,2500,3000,3500,4000],"format":"d","labelExpr":"datum.value % 1000 == 0 ? datum.label : ''","labelFlush":false,"labelFontSize":5.5,"labelColor":"#666666","labelPadding":1,"tickSize":3,"tickColor":"#444444","tickOpacity":{"condition":{"test":"datum.value % 1000 == 0","value":1},"value":0},"domain":false,"grid":true,"gridColor":{"condition":{"test":"datum.value % 1000 == 0","value":"#e3e3e3"},"value":"#f1f1f1"},"titleFontSize":10,"titleFontWeight":"normal","titleColor":"#111111","titlePadding":2}},
       "y":{"field":"s","type":"quantitative","scale":{"domain":[-0.05,1.05],"nice":false,"zero":false},"axis":{"title":"Survival probability","values":[0,0.125,0.25,0.375,0.5,0.625,0.75,0.875,1],"format":".2f","labelExpr":"(datum.value * 4) % 1 == 0 ? datum.label : ''","labelFlush":false,"labelFontSize":5.5,"labelColor":"#666666","labelPadding":1,"tickSize":3,"tickColor":"#444444","tickOpacity":{"condition":{"test":"(datum.value * 4) % 1 == 0","value":1},"value":0},"domain":false,"grid":true,"gridColor":{"condition":{"test":"(datum.value * 4) % 1 == 0","value":"#e3e3e3"},"value":"#f1f1f1"},"titleFontSize":10,"titleFontWeight":"normal","titleColor":"#111111","titlePadding":11}},
       "color":{"field":"g","type":"nominal","scale":{"domain":["High","Low"],"range":["#D7262B","#3C5A9A"]},"legend":{"title":"Group of Male","symbolType":"stroke"}}}},
     {"data":{"name":"cens"},"transform":[{"filter":"datum.p == 'G'"}],"mark":{"type":"point","shape":"M-1,0L1,0M0,-1L0,1","size":22,"strokeWidth":1,"filled":false,"opacity":1},
      "encoding":{"x":{"field":"t","type":"quantitative"},"y":{"field":"s","type":"quantitative"},"color":{"field":"g","type":"nominal"}}},
     {"data":{"name":"pv"},"transform":[{"filter":"datum.p == 'G'"}],"mark":{"type":"text","align":"left","baseline":"middle","fontSize":8.5,"color":"#111111"},
      "encoding":{"x":{"field":"t","type":"quantitative"},"y":{"field":"s","type":"quantitative"},"text":{"field":"lab"}}}
    ]},
   {"width":181,"height":38,"view":{"stroke":"#999999"},
    "title":{"text":"Number at risk","anchor":"start","frame":"group","fontSize":8.5,"fontWeight":"normal","offset":4},
    "data":{"name":"risk"},"transform":[{"filter":"datum.p == 'G'"}],
    "mark":{"type":"text","fontSize":8,"color":"#111111"},
    "encoding":{"x":{"field":"t","type":"quantitative","scale":{"domain":[-110,4180],"nice":false,"zero":false},"axis":{"values":[0,500,1000,1500,2000,2500,3000,3500,4000],"labels":false,"ticks":false,"domain":false,"grid":true,"gridColor":"#ececec","title":null}},
     "y":{"field":"g","type":"nominal","scale":{"domain":["High","Low"],"paddingInner":0,"paddingOuter":0.05},"axis":{"title":null,"ticks":false,"domain":false,"grid":true,"bandPosition":0.5,"gridColor":"#ececec","labelFontSize":8,"labelPadding":4,"labelColor":{"condition":{"test":"datum.value == 'High'","value":"#D7262B"},"value":"#3C5A9A"}}},
     "text":{"field":"n","type":"quantitative"}}}
   ]},
  {"title":{"text":"H","anchor":"start","fontSize":30,"fontWeight":"normal","offset":-16},"spacing":1,"resolve":{"scale":{"color":"independent"},"legend":{"color":"independent"}},
   "vconcat":[
   {"width":181,"height":128,"view":{"stroke":"#c8c8c8"},
    "layer":[
     {"data":{"name":"line"},"transform":[{"filter":"datum.p == 'H'"}],"mark":{"type":"line","interpolate":"step-after","strokeWidth":1.4,"clip":true},
      "encoding":{"x":{"field":"t","type":"quantitative","scale":{"domain":[-110,4180],"nice":false,"zero":false},"axis":{"title":"Time (days)","values":[0,500,1000,1500,2000,2500,3000,3500,4000],"format":"d","labelExpr":"datum.value % 1000 == 0 ? datum.label : ''","labelFlush":false,"labelFontSize":5.5,"labelColor":"#666666","labelPadding":1,"tickSize":3,"tickColor":"#444444","tickOpacity":{"condition":{"test":"datum.value % 1000 == 0","value":1},"value":0},"domain":false,"grid":true,"gridColor":{"condition":{"test":"datum.value % 1000 == 0","value":"#e3e3e3"},"value":"#f1f1f1"},"titleFontSize":10,"titleFontWeight":"normal","titleColor":"#111111","titlePadding":2}},
       "y":{"field":"s","type":"quantitative","scale":{"domain":[-0.05,1.05],"nice":false,"zero":false},"axis":{"title":"Survival probability","values":[0,0.125,0.25,0.375,0.5,0.625,0.75,0.875,1],"format":".2f","labelExpr":"(datum.value * 4) % 1 == 0 ? datum.label : ''","labelFlush":false,"labelFontSize":5.5,"labelColor":"#666666","labelPadding":1,"tickSize":3,"tickColor":"#444444","tickOpacity":{"condition":{"test":"(datum.value * 4) % 1 == 0","value":1},"value":0},"domain":false,"grid":true,"gridColor":{"condition":{"test":"(datum.value * 4) % 1 == 0","value":"#e3e3e3"},"value":"#f1f1f1"},"titleFontSize":10,"titleFontWeight":"normal","titleColor":"#111111","titlePadding":11}},
       "color":{"field":"g","type":"nominal","scale":{"domain":["High","Low"],"range":["#D7262B","#3C5A9A"]},"legend":{"title":"Group of M1","symbolType":"stroke"}}}},
     {"data":{"name":"cens"},"transform":[{"filter":"datum.p == 'H'"}],"mark":{"type":"point","shape":"M-1,0L1,0M0,-1L0,1","size":22,"strokeWidth":1,"filled":false,"opacity":1},
      "encoding":{"x":{"field":"t","type":"quantitative"},"y":{"field":"s","type":"quantitative"},"color":{"field":"g","type":"nominal"}}},
     {"data":{"name":"pv"},"transform":[{"filter":"datum.p == 'H'"}],"mark":{"type":"text","align":"left","baseline":"middle","fontSize":8.5,"color":"#111111"},
      "encoding":{"x":{"field":"t","type":"quantitative"},"y":{"field":"s","type":"quantitative"},"text":{"field":"lab"}}}
    ]},
   {"width":181,"height":38,"view":{"stroke":"#999999"},
    "title":{"text":"Number at risk","anchor":"start","frame":"group","fontSize":8.5,"fontWeight":"normal","offset":4},
    "data":{"name":"risk"},"transform":[{"filter":"datum.p == 'H'"}],
    "mark":{"type":"text","fontSize":8,"color":"#111111"},
    "encoding":{"x":{"field":"t","type":"quantitative","scale":{"domain":[-110,4180],"nice":false,"zero":false},"axis":{"values":[0,500,1000,1500,2000,2500,3000,3500,4000],"labels":false,"ticks":false,"domain":false,"grid":true,"gridColor":"#ececec","title":null}},
     "y":{"field":"g","type":"nominal","scale":{"domain":["High","Low"],"paddingInner":0,"paddingOuter":0.05},"axis":{"title":null,"ticks":false,"domain":false,"grid":true,"bandPosition":0.5,"gridColor":"#ececec","labelFontSize":8,"labelPadding":4,"labelColor":{"condition":{"test":"datum.value == 'High'","value":"#D7262B"},"value":"#3C5A9A"}}},
     "text":{"field":"n","type":"quantitative"}}}
   ]},
  {"title":{"text":"I","anchor":"start","fontSize":30,"fontWeight":"normal","offset":-16},"spacing":1,"resolve":{"scale":{"color":"independent"},"legend":{"color":"independent"}},
   "vconcat":[
   {"width":181,"height":128,"view":{"stroke":"#c8c8c8"},
    "layer":[
     {"data":{"name":"line"},"transform":[{"filter":"datum.p == 'I'"}],"mark":{"type":"line","interpolate":"step-after","strokeWidth":1.4,"clip":true},
      "encoding":{"x":{"field":"t","type":"quantitative","scale":{"domain":[-110,4180],"nice":false,"zero":false},"axis":{"title":"Time (days)","values":[0,500,1000,1500,2000,2500,3000,3500,4000],"format":"d","labelExpr":"datum.value % 1000 == 0 ? datum.label : ''","labelFlush":false,"labelFontSize":5.5,"labelColor":"#666666","labelPadding":1,"tickSize":3,"tickColor":"#444444","tickOpacity":{"condition":{"test":"datum.value % 1000 == 0","value":1},"value":0},"domain":false,"grid":true,"gridColor":{"condition":{"test":"datum.value % 1000 == 0","value":"#e3e3e3"},"value":"#f1f1f1"},"titleFontSize":10,"titleFontWeight":"normal","titleColor":"#111111","titlePadding":2}},
       "y":{"field":"s","type":"quantitative","scale":{"domain":[-0.05,1.05],"nice":false,"zero":false},"axis":{"title":"Survival probability","values":[0,0.125,0.25,0.375,0.5,0.625,0.75,0.875,1],"format":".2f","labelExpr":"(datum.value * 4) % 1 == 0 ? datum.label : ''","labelFlush":false,"labelFontSize":5.5,"labelColor":"#666666","labelPadding":1,"tickSize":3,"tickColor":"#444444","tickOpacity":{"condition":{"test":"(datum.value * 4) % 1 == 0","value":1},"value":0},"domain":false,"grid":true,"gridColor":{"condition":{"test":"(datum.value * 4) % 1 == 0","value":"#e3e3e3"},"value":"#f1f1f1"},"titleFontSize":10,"titleFontWeight":"normal","titleColor":"#111111","titlePadding":11}},
       "color":{"field":"g","type":"nominal","scale":{"domain":["High","Low"],"range":["#D7262B","#3C5A9A"]},"legend":{"title":"Group of M1","symbolType":"stroke"}}}},
     {"data":{"name":"cens"},"transform":[{"filter":"datum.p == 'I'"}],"mark":{"type":"point","shape":"M-1,0L1,0M0,-1L0,1","size":22,"strokeWidth":1,"filled":false,"opacity":1},
      "encoding":{"x":{"field":"t","type":"quantitative"},"y":{"field":"s","type":"quantitative"},"color":{"field":"g","type":"nominal"}}},
     {"data":{"name":"pv"},"transform":[{"filter":"datum.p == 'I'"}],"mark":{"type":"text","align":"left","baseline":"middle","fontSize":8.5,"color":"#111111"},
      "encoding":{"x":{"field":"t","type":"quantitative"},"y":{"field":"s","type":"quantitative"},"text":{"field":"lab"}}}
    ]},
   {"width":181,"height":38,"view":{"stroke":"#999999"},
    "title":{"text":"Number at risk","anchor":"start","frame":"group","fontSize":8.5,"fontWeight":"normal","offset":4},
    "data":{"name":"risk"},"transform":[{"filter":"datum.p == 'I'"}],
    "mark":{"type":"text","fontSize":8,"color":"#111111"},
    "encoding":{"x":{"field":"t","type":"quantitative","scale":{"domain":[-110,4180],"nice":false,"zero":false},"axis":{"values":[0,500,1000,1500,2000,2500,3000,3500,4000],"labels":false,"ticks":false,"domain":false,"grid":true,"gridColor":"#ececec","title":null}},
     "y":{"field":"g","type":"nominal","scale":{"domain":["High","Low"],"paddingInner":0,"paddingOuter":0.05},"axis":{"title":null,"ticks":false,"domain":false,"grid":true,"bandPosition":0.5,"gridColor":"#ececec","labelFontSize":8,"labelPadding":4,"labelColor":{"condition":{"test":"datum.value == 'High'","value":"#D7262B"},"value":"#3C5A9A"}}},
     "text":{"field":"n","type":"quantitative"}}}
   ]}
  ]}
 ]}
]
}
